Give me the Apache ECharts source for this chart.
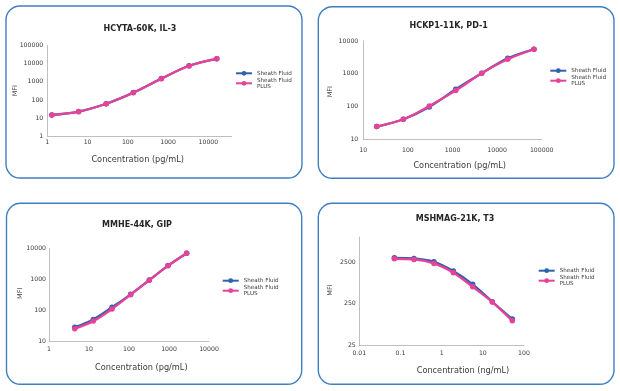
<!DOCTYPE html>
<html><head><meta charset="utf-8">
<script src="https://cdn.jsdelivr.net/npm/echarts@6/dist/echarts.min.js"></script>
<style>html,body{margin:0;padding:0;background:#fff}#c{width:620px;height:391px}</style>
</head><body><div id="c"></div>
<script>
// ---------------- data ----------------
const seriesNames = ['Sheath Fluid', 'Sheath Fluid PLUS'];
const panelTitles = ['HCYTA-60K, IL-3', 'HCKP1-11K, PD-1', 'MMHE-44K, GIP', 'MSHMAG-21K, T3'];
const xTitles = ['Concentration (pg/mL)', 'Concentration (pg/mL)', 'Concentration (pg/mL)', 'Concentration (ng/mL)'];
const yTitle = 'MFI';

// HCYTA-60K, IL-3
const il3Conc   = [1.3, 6.0, 29, 137, 680, 3320, 16200];
const il3Sheath = [15, 23, 62, 255, 1500, 7700, 18500];
const il3Plus   = [14.9, 22.6, 62, 252, 1490, 7400, 18800];

// HCKP1-11K, PD-1
const pd1Conc   = [20, 79, 302, 1180, 4520, 17300, 67100];
const pd1Sheath = [24.4, 40.8, 97, 336, 1035, 2970, 5600];
const pd1Plus   = [24.4, 40.8, 104, 307, 1035, 2760, 5600];

// MMHE-44K, GIP
const gipConc   = [4.4, 12.8, 37.6, 110, 322, 944, 2760];
const gipSheath = [27.7, 50, 123, 324, 940, 2750, 6930];
const gipPlus   = [25, 44, 109, 316, 930, 2700, 6930];

// MSHMAG-21K, T3
const t3Conc   = [0.071, 0.213, 0.65, 1.92, 5.67, 17, 52];
const t3Sheath = [3170, 3070, 2540, 1520, 731, 280, 108];
const t3Plus   = [3000, 2900, 2330, 1390, 640, 275, 98];

// axis ranges / tick labels
const xRanges = [[1, 38000], [10, 100000], [1, 10000], [0.01, 100]];
const yRanges = [[1, 100000], [10, 10000], [10, 10000], [25, 10000]];
const t3YTicks = [25, 250, 2500];

const panelData = [
  [il3Conc, il3Sheath, il3Plus],
  [pd1Conc, pd1Sheath, pd1Plus],
  [gipConc, gipSheath, gipPlus],
  [t3Conc, t3Sheath, t3Plus]
];

// ---------------- layout ----------------
const FONT = 'DejaVu Sans';
const TXT = '#3a3a3a';
const AXC = '#bfbfbf';
const COLORS = ['#2e62ab', '#e8419a'];

const grids = [
  {left: 47.3, top: 45.5, width: 184.4, height: 90.8},
  {left: 363.3, top: 41, width: 178.4, height: 98.3},
  {left: 49, top: 248.3, width: 160, height: 92.7},
  {left: 359.3, top: 237, width: 164.7, height: 108.5}
];
const xLabelMargin = [3, 8, 5.8, 5.3];
const yLabelMargin = [4, 5, 3, 3.5];
const boxes = [
  [6, 6, 296, 172], [318.3, 6.7, 295.7, 171.6],
  [6.5, 203.3, 295.2, 181], [318.3, 203.3, 295.7, 181]
];
const titlePos = [[140, 29.3], [448.7, 26.7], [137, 225], [455, 219]];
const xTitlePos = [[137.7, 160], [459.7, 165.7], [141.3, 367.7], [463, 370.7]];
const yTitlePos = [[15, 90.7], [330.7, 91.7], [20, 293.3], [330, 290]];
const legendPos = [[235, 70.1], [549.3, 67.5], [221.7, 277.5], [537.7, 267.5]];

const fmt = v => String(v);

const xAxis = [], yAxis = [], series = [], title = [], legend = [], graphic = [];
for (let i = 0; i < 4; i++) {
  xAxis.push({
    type: 'log', logBase: 10, gridIndex: i,
    min: xRanges[i][0], max: xRanges[i][1],
    axisLine: {lineStyle: {color: AXC, width: 1}},
    axisTick: {show: false}, splitLine: {show: false},
    axisLabel: {fontSize: 6.2, color: TXT, fontFamily: FONT, margin: xLabelMargin[i],
      formatter: fmt, showMaxLabel: i !== 0}
  });
  yAxis.push({
    type: 'log', logBase: 10, gridIndex: i, position: 'left',
    min: yRanges[i][0], max: yRanges[i][1],
    axisLine: {show: true, lineStyle: {color: AXC, width: 1}},
    axisTick: {show: false}, splitLine: {show: false},
    axisLabel: {show: i !== 3, fontSize: 6.2, color: TXT, fontFamily: FONT, margin: yLabelMargin[i],
      formatter: fmt}
  });
  const [conc, a, b] = panelData[i];
  [a, b].forEach((vals, k) => {
    series.push({
      name: seriesNames[k], type: 'line', xAxisIndex: i, yAxisIndex: i,
      data: conc.map((c, j) => [c, vals[j]]),
      smooth: 0.35, symbol: 'circle', symbolSize: 5.5,
      lineStyle: {color: COLORS[k], width: 2.3},
      itemStyle: {color: COLORS[k]},
      z: 2 + k
    });
  });
  title.push({
    text: panelTitles[i], left: titlePos[i][0], top: titlePos[i][1] - 4.5,
    textAlign: 'center', padding: 0,
    textStyle: {fontSize: 8, fontWeight: 'bold', color: '#262626', fontFamily: FONT}
  });
  legend.push({
    orient: 'vertical', left: legendPos[i][0], top: legendPos[i][1], padding: 0,
    itemWidth: 16, itemHeight: 6, itemGap: 0.4,
    data: seriesNames,
    formatter: n => n === 'Sheath Fluid PLUS' ? 'Sheath Fluid\nPLUS' : n,
    textStyle: {fontSize: 5.6, color: TXT, fontFamily: FONT, lineHeight: 6.4}
  });
  graphic.push({
    type: 'rect', silent: true,
    shape: {x: boxes[i][0], y: boxes[i][1], width: boxes[i][2], height: boxes[i][3], r: 14},
    style: {fill: 'none', stroke: '#3f7fbf', lineWidth: 1.4}
  });
  graphic.push({
    type: 'text', silent: true, x: xTitlePos[i][0], y: xTitlePos[i][1],
    style: {text: xTitles[i], align: 'center', verticalAlign: 'middle',
      font: '8.2px "DejaVu Sans"', fill: TXT}
  });
  graphic.push({
    type: 'text', silent: true, x: yTitlePos[i][0], y: yTitlePos[i][1], rotation: Math.PI / 2,
    style: {text: yTitle, align: 'center', verticalAlign: 'middle',
      font: '6.5px "DejaVu Sans"', fill: TXT}
  });
}
// label axis for the T3 panel (ticks 25, 250, 2500 counted from the axis minimum)
yAxis.push({
  type: 'value', gridIndex: 3, position: 'left',
  min: 0, max: Math.log10(yRanges[3][1] / t3YTicks[0]),
  interval: Math.log10(t3YTicks[1] / t3YTicks[0]),
  axisLine: {show: false}, axisTick: {show: false}, splitLine: {show: false},
  axisLabel: {fontSize: 6.2, color: TXT, fontFamily: FONT, margin: yLabelMargin[3],
    showMaxLabel: false,
    formatter: (v, idx) => t3YTicks[idx] !== undefined ? String(t3YTicks[idx]) : ''}
});

const chart = echarts.init(document.getElementById('c'), null, {renderer: 'canvas'});
chart.setOption({
  animation: false,
  backgroundColor: '#ffffff',
  textStyle: {fontFamily: FONT},
  grid: grids.map(g => Object.assign({containLabel: false, outerBoundsMode: 'none'}, g)),
  xAxis, yAxis, series, title, legend, graphic
});
</script>
</body></html>
